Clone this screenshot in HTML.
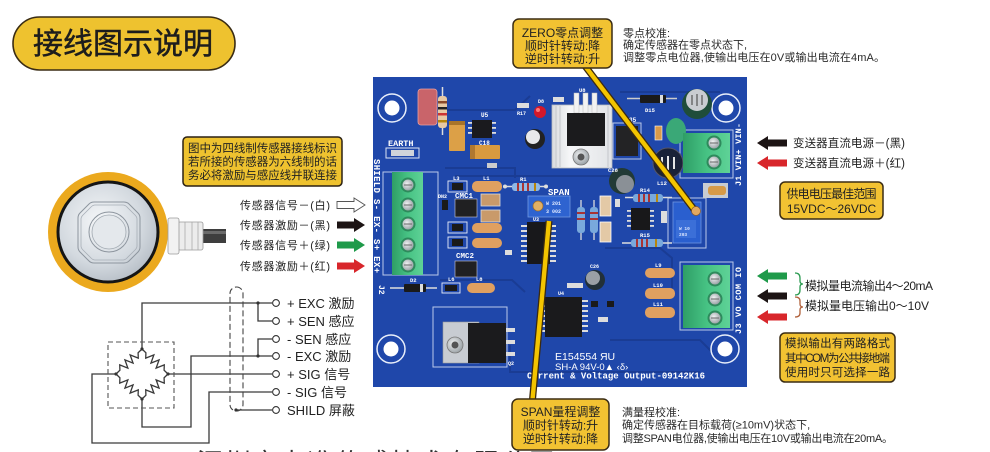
<!DOCTYPE html>
<html><head><meta charset="utf-8">
<style>
html,body{margin:0;padding:0;background:#fff;width:990px;height:452px;overflow:hidden;}
svg{display:block;overflow:hidden;}
text{font-family:"Liberation Sans","Noto Sans CJK SC",sans-serif;}
.mono{font-family:"Liberation Mono","DejaVu Sans Mono",monospace;font-weight:bold;}
</style></head><body>
<svg width="990" height="452" viewBox="0 0 990 452" xmlns="http://www.w3.org/2000/svg">
<defs>
<radialGradient id="silver" cx="0.42" cy="0.4" r="0.7">
<stop offset="0" stop-color="#f5f7f9"/><stop offset="0.6" stop-color="#d3d9df"/><stop offset="1" stop-color="#aeb6bf"/>
</radialGradient>
<radialGradient id="screw" cx="0.4" cy="0.4" r="0.7">
<stop offset="0" stop-color="#f2f3f4"/><stop offset="1" stop-color="#8f979c"/>
</radialGradient>
<linearGradient id="hs" x1="0" x2="1" y1="0" y2="0">
<stop offset="0" stop-color="#d9dcdf"/><stop offset="0.3" stop-color="#f6f7f8"/><stop offset="1" stop-color="#e2e4e7"/>
</linearGradient>
<linearGradient id="grn" x1="0" x2="1">
<stop offset="0" stop-color="#2f9e66"/><stop offset="0.5" stop-color="#46c283"/><stop offset="1" stop-color="#5fd297"/>
</linearGradient>
<clipPath id="frame"><rect x="0" y="0" width="990" height="452"/></clipPath>
</defs>
<g clip-path="url(#frame)">

<!-- Title pill -->
<rect x="13" y="17" width="222" height="53" rx="26.5" fill="#EEC22F" stroke="#3a2c14" stroke-width="1.6"/>
<text x="33" y="54" font-size="30" fill="#1d1d1d" stroke="#1d1d1d" stroke-width="0.5" textLength="180" lengthAdjust="spacingAndGlyphs">接线图示说明</text>

<!-- Left note box -->
<rect x="183" y="137" width="159" height="49" rx="4" fill="#EEC22F" stroke="#2b2113" stroke-width="1.5"/>
<g font-size="11.5" fill="#222">
<text x="188" y="152" textLength="149">图中为四线制传感器接线标识</text>
<text x="188" y="165.5" textLength="149">若所接的传感器为六线制的话</text>
<text x="188" y="179" textLength="149">务必将激励与感应线并联连接</text>
</g>

<!-- Load cell -->
<circle cx="108" cy="232" r="60" fill="#EBA91E"/>
<circle cx="108" cy="232" r="50" fill="url(#silver)" stroke="#151515" stroke-width="3"/>
<path d="M94,202 H124 Q127,202 129,204 L138,213 Q140,215 140,218 V247 Q140,250 138,252 L129,261 Q127,263 124,263 H94 Q91,263 89,261 L80,252 Q78,250 78,247 V218 Q78,215 80,213 L89,204 Q91,202 94,202 Z" fill="none" stroke="#8d959e" stroke-width="1"/>
<path d="M95,205 H123 Q125,205 127,207 L135,215 Q137,217 137,219 V246 Q137,248 135,250 L127,258 Q125,260 123,260 H95 Q93,260 91,258 L83,250 Q81,248 81,246 V219 Q81,217 83,215 L91,207 Q93,205 95,205 Z" fill="none" stroke="#a7aeb6" stroke-width="0.8"/>
<circle cx="109" cy="232" r="20" fill="none" stroke="#8d959e" stroke-width="1"/>
<circle cx="109" cy="232" r="17" fill="#e4e8ec" stroke="#a0a8b0" stroke-width="0.8"/>
<!-- gland & cable -->
<rect x="203" y="229" width="23" height="14" fill="#3e3e3e"/>
<rect x="203" y="231" width="23" height="3" fill="#6a6a6a"/>
<rect x="178" y="222" width="25" height="28" rx="2" fill="#ececec" stroke="#9a9a9a" stroke-width="0.8"/>
<rect x="168" y="218" width="11" height="36" rx="2" fill="#f2f2f2" stroke="#9a9a9a" stroke-width="0.8"/>
<line x1="185" y1="222" x2="185" y2="250" stroke="#aaa" stroke-width="0.8"/>
<line x1="192" y1="222" x2="192" y2="250" stroke="#aaa" stroke-width="0.8"/>
<line x1="198" y1="222" x2="198" y2="250" stroke="#aaa" stroke-width="0.8"/>

<!-- Sensor wire labels -->
<g font-size="11" fill="#222">
<text x="240" y="209" textLength="90">传感器信号－(白)</text>
<text x="240" y="229" textLength="90">传感器激励－(黑)</text>
<text x="240" y="249" textLength="90">传感器信号＋(绿)</text>
<text x="240" y="270" textLength="90">传感器激励＋(红)</text>
</g>
<path d="M337,201.5 H354 V198 L365,205 L354,212 V208.5 H337 Z" fill="#fff" stroke="#555" stroke-width="0.9"/>
<path d="M337,221.5 H354 V218 L365,225 L354,232 V228.5 H337 Z" fill="#1c1414"/>
<path d="M337,241.5 H354 V238 L365,245 L354,252 V248.5 H337 Z" fill="#1f9a4a"/>
<path d="M337,262.5 H354 V259 L365,266 L354,273 V269.5 H337 Z" fill="#d8262b"/>

<!-- Circuit diagram -->
<g fill="none" stroke="#3a3a3a" stroke-width="1.3">
<path d="M142,349 V303 H272"/>
<path d="M258,303 V321 H272"/>
<path d="M272,339 H258 V356"/>
<path d="M272,356 H191 V427 H142 V399"/>
<path d="M168,374 H272"/>
<path d="M272,392 H209 V443 H92 V374 H116"/>
<path d="M236,410 H272"/>
<polyline points="142,349 145.9,352.75 145.73,358.13 153.87,354.87 150.93,363.13 159.07,359.87 156.13,368.13 164.27,364.87 164.1,370.25 168,374"/>
<polyline points="142,349 138.1,352.75 138.27,358.13 130.13,354.87 133.07,363.13 124.93,359.87 127.87,368.13 119.73,364.87 119.9,370.25 116,374"/>
<polyline points="142,399 145.9,395.25 145.73,389.87 153.87,393.13 150.93,384.87 159.07,388.13 156.13,379.87 164.27,383.13 164.1,377.75 168,374"/>
<polyline points="142,399 138.1,395.25 138.27,389.87 130.13,393.13 133.07,384.87 124.93,388.13 127.87,379.87 119.73,383.13 119.9,377.75 116,374"/>
</g>
<rect x="108" y="342" width="66" height="66" fill="none" stroke="#555" stroke-width="1.1" stroke-dasharray="5 3"/>
<rect x="230" y="287" width="13" height="124" rx="6.5" fill="none" stroke="#444" stroke-width="1.1" stroke-dasharray="6 3"/>
<g fill="#333">
<circle cx="258" cy="303" r="1.6"/><circle cx="258" cy="356" r="1.6"/><circle cx="236" cy="410" r="1.6"/>
<circle cx="142" cy="349" r="1.6"/><circle cx="142" cy="399" r="1.6"/><circle cx="116" cy="374" r="1.6"/><circle cx="168" cy="374" r="1.6"/>
</g>
<g fill="#fff" stroke="#333" stroke-width="1.1">
<circle cx="276" cy="303" r="3.4"/><circle cx="276" cy="321" r="3.4"/><circle cx="276" cy="339" r="3.4"/>
<circle cx="276" cy="356" r="3.4"/><circle cx="276" cy="374" r="3.4"/><circle cx="276" cy="392" r="3.4"/><circle cx="276" cy="410" r="3.4"/>
</g>
<g font-size="13" fill="#222">
<text x="287" y="308">+ EXC 激励</text>
<text x="287" y="326">+ SEN 感应</text>
<text x="287" y="344">- SEN 感应</text>
<text x="287" y="361">- EXC 激励</text>
<text x="287" y="379">+ SIG  信号</text>
<text x="287" y="397">- SIG  信号</text>
<text x="287" y="415">SHILD 屏蔽</text>
</g>

<!-- Bottom cut-off company text -->
<text x="197" y="472" font-size="26" fill="#333" textLength="358">深圳市力准传感技术有限公司</text>

<!-- ================= PCB ================= -->
<rect x="373" y="77" width="374" height="310" fill="#1f47aa"/>
<g fill="none" stroke="#1a3c94" stroke-width="2">
<path d="M430,110 H515 L530,96"/>
<path d="M445,168 H515 V178"/>
<path d="M605,248 H660 L672,258 V292"/>
<path d="M525,292 L512,280 H440"/>
<path d="M610,340 H700 L712,352"/>
<path d="M455,176 H610"/>
<path d="M510,345 V372 H700"/>
<path d="M620,92 H720"/>
</g>
<g fill="none" stroke="#d7e1f6" stroke-width="1" opacity="0.85">
<rect x="383" y="172" width="55" height="103"/>
<rect x="680" y="130" width="53" height="48"/>
<rect x="680" y="262" width="53" height="68"/>
<rect x="433" y="307" width="74" height="60"/>
<rect x="668" y="198" width="38" height="50"/>
<rect x="613" y="123" width="28" height="36"/>
</g>
<!-- mounting holes -->
<g>
<circle cx="392" cy="108" r="14" fill="none" stroke="#e8eefa" stroke-width="1.5"/><circle cx="392" cy="108" r="7.5" fill="#fff"/>
<circle cx="726" cy="108" r="14" fill="none" stroke="#e8eefa" stroke-width="1.5"/><circle cx="726" cy="108" r="7.5" fill="#fff"/>
<circle cx="391" cy="349" r="14" fill="none" stroke="#e8eefa" stroke-width="1.5"/><circle cx="391" cy="349" r="7.5" fill="#fff"/>
<circle cx="725" cy="349" r="14" fill="none" stroke="#e8eefa" stroke-width="1.5"/><circle cx="725" cy="349" r="7.5" fill="#fff"/>
</g>

<!-- top-left components -->
<rect x="418" y="89" width="19" height="36" rx="3" fill="#c9646a" stroke="#e9a0a0" stroke-width="0.8"/>
<line x1="442.5" y1="87" x2="442.5" y2="135" stroke="#ddd" stroke-width="1.5"/>
<rect x="438" y="96" width="9" height="32" rx="3" fill="#e7c9a4"/>
<rect x="438" y="101" width="9" height="2.5" fill="#8a4a2a"/><rect x="438" y="107" width="9" height="2.5" fill="#222"/>
<rect x="438" y="113" width="9" height="2.5" fill="#c33"/><rect x="438" y="120" width="9" height="2.5" fill="#b8860b"/>
<rect x="449" y="121" width="16" height="30" rx="1" fill="#dca047"/><rect x="449" y="121" width="16" height="4" fill="#a8742a"/>
<rect x="472" y="120" width="20" height="18" fill="#1a1a1e"/>
<g fill="#ddd"><rect x="468" y="122" width="4" height="1.8"/><rect x="468" y="127" width="4" height="1.8"/><rect x="468" y="132" width="4" height="1.8"/>
<rect x="492" y="122" width="4" height="1.8"/><rect x="492" y="127" width="4" height="1.8"/><rect x="492" y="132" width="4" height="1.8"/></g>
<rect x="470" y="145" width="30" height="14" rx="1" fill="#d99a3f"/><rect x="470" y="145" width="5" height="14" fill="#b07830"/>
<rect x="487" y="163" width="10" height="5" fill="#ccc"/>
<text x="388" y="146" class="mono" font-size="8.5" fill="#fff">EARTH</text>
<rect x="386" y="148" width="33" height="10" fill="none" stroke="#dde4f4" stroke-width="1"/>
<rect x="391" y="150" width="23" height="6" fill="#d0d4da"/>
<text x="481" y="117" class="mono" font-size="6" fill="#fff">U5</text>
<text x="479" y="145" class="mono" font-size="6" fill="#fff">C18</text>

<!-- LED, small parts -->
<circle cx="540" cy="112" r="6" fill="#d3182a"/><circle cx="538" cy="110" r="2" fill="#f77"/>
<rect x="517" y="103" width="12" height="5" fill="#ddd"/>
<text x="517" y="115" class="mono" font-size="5" fill="#fff">R17</text>
<text x="538" y="103" class="mono" font-size="5" fill="#fff">D8</text>
<rect x="553" y="97" width="11" height="5" fill="#ddd"/>
<circle cx="535" cy="139" r="10" fill="#222"/><circle cx="533" cy="137" r="7" fill="#e8e8ea"/>

<!-- U8 heatsink regulator -->
<rect x="552" y="105" width="60" height="63" fill="url(#hs)" stroke="#b9bcc0" stroke-width="0.8"/>
<g stroke="#c4c7cb" stroke-width="1"><line x1="556" y1="106" x2="556" y2="167"/><line x1="560" y1="106" x2="560" y2="167"/><line x1="608" y1="106" x2="608" y2="167"/></g>
<rect x="574" y="93" width="5" height="20" fill="#f2f2f2" stroke="#bbb" stroke-width="0.5"/>
<rect x="583" y="93" width="5" height="20" fill="#f2f2f2" stroke="#bbb" stroke-width="0.5"/>
<rect x="592" y="93" width="5" height="20" fill="#f2f2f2" stroke="#bbb" stroke-width="0.5"/>
<rect x="567" y="113" width="38" height="33" fill="#1b1b1d"/>
<circle cx="581" cy="157" r="8" fill="url(#screw)" stroke="#777" stroke-width="0.8"/><circle cx="581" cy="157" r="3.5" fill="#555"/>
<text x="579" y="92" class="mono" font-size="5.5" fill="#fff">U8</text>

<!-- D15 and right-top parts -->
<line x1="627" y1="98.5" x2="677" y2="98.5" stroke="#ccc" stroke-width="1.5"/>
<rect x="640" y="95" width="26" height="8" rx="1" fill="#1a1a1a"/><rect x="660" y="95" width="3" height="8" fill="#ddd"/>
<text x="645" y="112" class="mono" font-size="5.5" fill="#fff">D15</text>
<rect x="616" y="126" width="22" height="30" fill="#232325"/>
<text x="629" y="122" class="mono" font-size="6" fill="#fff">35</text>
<circle cx="697" cy="104" r="15" fill="#1f4d3a"/><circle cx="697" cy="100" r="11" fill="#c9ccd1"/>
<g stroke="#555" stroke-width="1.2"><line x1="692" y1="95" x2="692" y2="105"/><line x1="697" y1="94" x2="697" y2="106"/><line x1="702" y1="95" x2="702" y2="105"/></g>
<ellipse cx="676" cy="131" rx="10" ry="13" fill="#3aa877"/>
<rect x="655" y="126" width="7" height="14" fill="#d99a4a" stroke="#fff" stroke-width="0.6"/>
<circle cx="668" cy="163" r="15" fill="#1a2238" stroke="#556" stroke-width="1"/>
<g stroke="#e6e6e6" stroke-width="2"><line x1="662" y1="157" x2="662" y2="169"/><line x1="668" y1="156" x2="668" y2="170"/><line x1="674" y1="157" x2="674" y2="169"/></g>
<text x="657" y="185" class="mono" font-size="5.5" fill="#fff">L12</text>
<circle cx="622" cy="181" r="13" fill="#223a36"/><circle cx="625" cy="184" r="9" fill="#8a9096"/>
<text x="608" y="172" class="mono" font-size="5.5" fill="#fff">C28</text>
<rect x="703" y="183" width="25" height="15" fill="#c8ccd2"/><rect x="708" y="186" width="18" height="9" rx="3" fill="#d69a48"/>

<!-- right middle -->
<line x1="625" y1="197.5" x2="672" y2="197.5" stroke="#ddd" stroke-width="1.5"/>
<rect x="633" y="194" width="30" height="8" rx="3" fill="#79a9dc"/>
<g fill="#a33"><rect x="638" y="194" width="2" height="8"/><rect x="643" y="194" width="2" height="8"/><rect x="648" y="194" width="2" height="8"/><rect x="656" y="194" width="2" height="8" fill="#b8860b"/></g>
<line x1="622" y1="243" x2="672" y2="243" stroke="#ddd" stroke-width="1.5"/>
<rect x="631" y="239" width="32" height="8" rx="3" fill="#79a9dc"/>
<g fill="#a33"><rect x="636" y="239" width="2" height="8"/><rect x="641" y="239" width="2" height="8"/><rect x="646" y="239" width="2" height="8"/><rect x="655" y="239" width="2" height="8" fill="#b8860b"/></g>
<text x="640" y="192" class="mono" font-size="5.5" fill="#fff">R14</text>
<text x="640" y="237" class="mono" font-size="5.5" fill="#fff">R15</text>
<rect x="631" y="208" width="19" height="22" fill="#18181a"/>
<g fill="#ddd"><rect x="627" y="210" width="4" height="1.8"/><rect x="627" y="215" width="4" height="1.8"/><rect x="627" y="220" width="4" height="1.8"/><rect x="627" y="225" width="4" height="1.8"/>
<rect x="650" y="210" width="4" height="1.8"/><rect x="650" y="215" width="4" height="1.8"/><rect x="650" y="220" width="4" height="1.8"/><rect x="650" y="225" width="4" height="1.8"/></g>
<rect x="661" y="211" width="6" height="12" fill="#ddd"/>
<line x1="581" y1="200" x2="581" y2="240" stroke="#ddd" stroke-width="1.3"/>
<rect x="577" y="207" width="8" height="26" rx="3" fill="#79a9dc"/>
<line x1="594" y1="200" x2="594" y2="240" stroke="#ddd" stroke-width="1.3"/>
<rect x="590" y="207" width="8" height="26" rx="3" fill="#79a9dc"/>
<g fill="#a33"><rect x="577" y="212" width="8" height="2"/><rect x="577" y="218" width="8" height="2"/><rect x="590" y="212" width="8" height="2"/><rect x="590" y="218" width="8" height="2"/></g>
<rect x="600" y="196" width="11" height="20" fill="#e3c9a6" stroke="#fff" stroke-width="0.8"/>
<rect x="600" y="222" width="11" height="20" fill="#e3c9a6" stroke="#fff" stroke-width="0.8"/>
<rect x="615" y="199" width="5" height="8" fill="#ddd"/>

<!-- ZERO pot -->
<rect x="673" y="202" width="28" height="41" fill="#2a5fcf" stroke="#6f95e0" stroke-width="0.8"/>
<rect x="676" y="220" width="20" height="18" fill="#3b6fd8"/>
<text x="679" y="230" class="mono" font-size="4.5" fill="#dfe8ff">W 10</text>
<text x="679" y="236" class="mono" font-size="4.5" fill="#dfe8ff">203</text>

<!-- left area -->
<rect x="448" y="181" width="19" height="11" fill="none" stroke="#e8eefa" stroke-width="0.9"/><rect x="452" y="183" width="11" height="7" fill="#1a1a1a"/>
<rect x="472" y="181" width="30" height="11" rx="5" fill="#e0a060"/>
<text x="453" y="180" class="mono" font-size="5.5" fill="#fff">L3</text>
<text x="483" y="180" class="mono" font-size="5.5" fill="#fff">L1</text>
<text x="455" y="198" class="mono" font-size="7.5" fill="#fff">CMC1</text>
<rect x="455" y="199" width="22" height="18" fill="#202022" stroke="#ccd" stroke-width="0.6"/>
<rect x="481" y="194" width="19" height="12" fill="#c99a6a" stroke="#ddd" stroke-width="0.8"/>
<rect x="481" y="210" width="19" height="12" fill="#c99a6a" stroke="#ddd" stroke-width="0.8"/>
<rect x="442" y="200" width="6" height="10" fill="#1a1a1a"/>
<text x="438" y="198" class="mono" font-size="5" fill="#fff">DN2</text>
<rect x="448" y="222" width="19" height="11" fill="none" stroke="#e8eefa" stroke-width="0.9"/><rect x="452" y="224" width="11" height="7" fill="#1a1a1a"/>
<rect x="448" y="237" width="19" height="11" fill="none" stroke="#e8eefa" stroke-width="0.9"/><rect x="452" y="239" width="11" height="7" fill="#1a1a1a"/>
<rect x="472" y="223" width="30" height="10" rx="5" fill="#e0a060"/>
<rect x="472" y="238" width="30" height="10" rx="5" fill="#e0a060"/>
<text x="456" y="258" class="mono" font-size="7.5" fill="#fff">CMC2</text>
<rect x="455" y="261" width="22" height="16" fill="#202022" stroke="#ccd" stroke-width="0.6"/>
<rect x="442" y="283" width="18" height="10" fill="none" stroke="#e8eefa" stroke-width="0.9"/><rect x="445" y="285" width="12" height="6" fill="#1a1a1a"/>
<rect x="467" y="283" width="28" height="10" rx="5" fill="#e0a060"/>
<text x="448" y="281" class="mono" font-size="5.5" fill="#fff">L6</text>
<text x="476" y="281" class="mono" font-size="5.5" fill="#fff">L8</text>
<line x1="390" y1="288" x2="437" y2="288" stroke="#ddd" stroke-width="1.5"/>
<rect x="404" y="284" width="22" height="8" rx="1" fill="#1a1a1a"/><rect x="420" y="284" width="3" height="8" fill="#ddd"/>
<text x="410" y="282" class="mono" font-size="5.5" fill="#fff">D2</text>
<rect x="505" y="250" width="7" height="5" fill="#ddd"/>

<!-- J2 terminal -->
<rect x="392" y="172" width="31" height="103" fill="url(#grn)"/>
<g fill="#2e8a5c"><circle cx="408" cy="185" r="7.5"/><circle cx="408" cy="205" r="7.5"/><circle cx="408" cy="224" r="7.5"/><circle cx="408" cy="245" r="7.5"/><circle cx="408" cy="265" r="7.5"/></g>
<g fill="url(#screw)"><circle cx="408" cy="185" r="5.5"/><circle cx="408" cy="205" r="5.5"/><circle cx="408" cy="224" r="5.5"/><circle cx="408" cy="245" r="5.5"/><circle cx="408" cy="265" r="5.5"/></g>
<g stroke="#666" stroke-width="1"><line x1="404" y1="185" x2="412" y2="185"/><line x1="404" y1="205" x2="412" y2="205"/><line x1="404" y1="224" x2="412" y2="224"/><line x1="404" y1="245" x2="412" y2="245"/><line x1="404" y1="265" x2="412" y2="265"/></g>
<text transform="translate(374,159) rotate(90)" class="mono" font-size="9" fill="#fff" textLength="114">SHIELD S- EX- S+ EX+</text>
<text transform="translate(379,285) rotate(90)" class="mono" font-size="8" fill="#fff">J2</text>

<!-- J1 terminal -->
<rect x="683" y="133" width="47" height="40" fill="url(#grn)"/>
<g fill="#2e8a5c"><circle cx="714" cy="143" r="7.5"/><circle cx="714" cy="162" r="7.5"/></g>
<g fill="url(#screw)"><circle cx="714" cy="143" r="5.5"/><circle cx="714" cy="162" r="5.5"/></g>
<g stroke="#666" stroke-width="1"><line x1="710" y1="143" x2="718" y2="143"/><line x1="710" y1="162" x2="718" y2="162"/></g>
<text transform="translate(741,186) rotate(-90)" class="mono" font-size="8.5" fill="#fff" textLength="63">J1 VIN+ VIN-</text>

<!-- J3 terminal -->
<rect x="683" y="265" width="47" height="63" fill="url(#grn)"/>
<g fill="#2e8a5c"><circle cx="715" cy="279" r="7.5"/><circle cx="715" cy="299" r="7.5"/><circle cx="715" cy="318" r="7.5"/></g>
<g fill="url(#screw)"><circle cx="715" cy="279" r="5.5"/><circle cx="715" cy="299" r="5.5"/><circle cx="715" cy="318" r="5.5"/></g>
<g stroke="#666" stroke-width="1"><line x1="711" y1="279" x2="719" y2="279"/><line x1="711" y1="299" x2="719" y2="299"/><line x1="711" y1="318" x2="719" y2="318"/></g>
<text transform="translate(741,334) rotate(-90)" class="mono" font-size="8.5" fill="#fff" textLength="67">J3 VO COM IO</text>

<!-- L9 L10 L11 -->
<rect x="645" y="268" width="30" height="10" rx="5" fill="#e0a060"/>
<rect x="645" y="288" width="30" height="11" rx="5" fill="#e0a060"/>
<rect x="645" y="307" width="30" height="11" rx="5" fill="#e0a060"/>
<text x="655" y="267" class="mono" font-size="5.5" fill="#fff">L9</text>
<text x="653" y="287" class="mono" font-size="5.5" fill="#fff">L10</text>
<text x="653" y="306" class="mono" font-size="5.5" fill="#fff">L11</text>

<!-- U3 IC + SPAN pot + R1 -->
<rect x="527" y="222" width="23" height="42" fill="#18181b"/>
<g fill="#ddd">
<rect x="521" y="225" width="6" height="2"/><rect x="521" y="230" width="6" height="2"/><rect x="521" y="235" width="6" height="2"/><rect x="521" y="240" width="6" height="2"/><rect x="521" y="245" width="6" height="2"/><rect x="521" y="250" width="6" height="2"/><rect x="521" y="255" width="6" height="2"/><rect x="521" y="260" width="6" height="2"/>
<rect x="550" y="225" width="6" height="2"/><rect x="550" y="230" width="6" height="2"/><rect x="550" y="235" width="6" height="2"/><rect x="550" y="240" width="6" height="2"/><rect x="550" y="245" width="6" height="2"/><rect x="550" y="250" width="6" height="2"/><rect x="550" y="255" width="6" height="2"/><rect x="550" y="260" width="6" height="2"/>
</g>
<text x="533" y="221" class="mono" font-size="5" fill="#fff">U3</text>
<line x1="503" y1="186.5" x2="548" y2="186.5" stroke="#ddd" stroke-width="1.5"/>
<circle cx="505" cy="186.5" r="2" fill="#ddd"/><circle cx="546" cy="186.5" r="2" fill="#ddd"/>
<rect x="512" y="183" width="28" height="8" rx="3" fill="#8fb9e6"/>
<g fill="#a33"><rect x="517" y="183" width="2" height="8"/><rect x="522" y="183" width="2" height="8"/><rect x="527" y="183" width="2" height="8"/><rect x="534" y="183" width="2" height="8" fill="#b8860b"/></g>
<text x="520" y="181" class="mono" font-size="5.5" fill="#fff">R1</text>
<text x="548" y="195" class="mono" font-size="9" fill="#fff">SPAN</text>
<rect x="528" y="196" width="42" height="21" fill="#2e63d0" stroke="#7098e2" stroke-width="0.8"/>
<circle cx="538" cy="206" r="5" fill="#e2b064" stroke="#9a6a2a" stroke-width="0.7"/>
<text x="546" y="205" class="mono" font-size="5" fill="#dfe8ff">W 201</text>
<text x="546" y="213" class="mono" font-size="5" fill="#dfe8ff">3 002</text>

<!-- U4 & bottom parts -->
<rect x="545" y="297" width="37" height="40" fill="#1a1a1c"/>
<g fill="#ddd">
<rect x="539" y="300" width="6" height="2"/><rect x="539" y="305" width="6" height="2"/><rect x="539" y="310" width="6" height="2"/><rect x="539" y="315" width="6" height="2"/><rect x="539" y="320" width="6" height="2"/><rect x="539" y="325" width="6" height="2"/><rect x="539" y="330" width="6" height="2"/>
<rect x="582" y="300" width="6" height="2"/><rect x="582" y="305" width="6" height="2"/><rect x="582" y="310" width="6" height="2"/><rect x="582" y="315" width="6" height="2"/><rect x="582" y="320" width="6" height="2"/><rect x="582" y="325" width="6" height="2"/><rect x="582" y="330" width="6" height="2"/>
</g>
<text x="558" y="295" class="mono" font-size="5" fill="#fff">U4</text>
<circle cx="595" cy="280" r="10" fill="#223038"/><circle cx="593" cy="278" r="7" fill="#9aa0a6"/>
<text x="590" y="268" class="mono" font-size="5" fill="#fff">C26</text>
<rect x="567" y="283" width="16" height="5" fill="#ddd"/>
<rect x="591" y="301" width="7" height="6" fill="#1a1a1a"/><rect x="607" y="301" width="7" height="6" fill="#1a1a1a"/>
<rect x="598" y="317" width="10" height="5" fill="#ddd"/>

<!-- Q2 regulator -->
<rect x="443" y="322" width="36" height="41" fill="#c8ccd2" stroke="#999" stroke-width="0.6"/>
<circle cx="455" cy="345" r="8" fill="url(#screw)" stroke="#777" stroke-width="0.8"/><circle cx="455" cy="345" r="3.5" fill="#555"/>
<rect x="468" y="323" width="38" height="40" fill="#1b1b1d"/>
<rect x="506" y="328" width="9" height="4" fill="#ddd"/><rect x="506" y="340" width="9" height="4" fill="#ddd"/><rect x="506" y="352" width="9" height="4" fill="#ddd"/>
<text x="508" y="365" class="mono" font-size="5" fill="#fff">Q2</text>

<!-- board bottom text -->
<text x="555" y="360" font-size="10.5" fill="#fff">E154554 ЯU</text>
<text x="555" y="370" font-size="9.5" fill="#fff">SH-A 94V-0▲ ‹δ›</text>
<text x="527" y="378.5" class="mono" font-size="9" fill="#fff" textLength="178">Current &amp; Voltage Output-09142K16</text>

<!-- ZERO callout pointer & box -->
<line x1="582" y1="62" x2="696" y2="212" stroke="#3b2a10" stroke-width="7"/>
<line x1="582" y1="62" x2="696" y2="212" stroke="#F3C400" stroke-width="4.4"/>
<circle cx="696" cy="211" r="4.5" fill="#e2a860" stroke="#8a5a2a" stroke-width="0.7"/>
<rect x="513" y="19" width="99" height="49" rx="6" fill="#F2C232" stroke="#3a2c14" stroke-width="1.5"/>
<g font-size="12" fill="#222" text-anchor="middle">
<text x="562.5" y="37">ZERO零点调整</text>
<text x="562.5" y="50">顺时针转动:降</text>
<text x="562.5" y="63">逆时针转动:升</text>
</g>
<g font-size="11" fill="#2a2a2a">
<text x="623" y="37">零点校准:</text>
<text x="623" y="48.5">确定传感器在零点状态下,</text>
<text x="623" y="61" textLength="262">调整零点电位器,使输出电压在0V或输出电流在4mA。</text>
</g>

<!-- SPAN callout pointer & box -->
<line x1="549" y1="221" x2="532" y2="405" stroke="#3b2a10" stroke-width="7"/>
<line x1="549" y1="221" x2="532" y2="405" stroke="#F3C400" stroke-width="4.4"/>
<rect x="512" y="399" width="97" height="51" rx="6" fill="#F2C232" stroke="#3a2c14" stroke-width="1.5"/>
<g font-size="12" fill="#222" text-anchor="middle">
<text x="560.5" y="416">SPAN量程调整</text>
<text x="560.5" y="429.5">顺时针转动:升</text>
<text x="560.5" y="443">逆时针转动:降</text>
</g>
<g font-size="11" fill="#2a2a2a">
<text x="622" y="416">满量程校准:</text>
<text x="622" y="428.5">确定传感器在目标载荷(≥10mV)状态下,</text>
<text x="622" y="442" textLength="271">调整SPAN电位器,使输出电压在10V或输出电流在20mA。</text>
</g>

<!-- Right side: power arrows -->
<path d="M787,139.5 H768 V136 L757,143 L768,150 V146.5 H787 Z" fill="#1c1414"/>
<path d="M787,159.5 H768 V156 L757,163 L768,170 V166.5 H787 Z" fill="#d8262b"/>
<g font-size="11.5" fill="#222">
<text x="793" y="147" textLength="112">变送器直流电源－(黑)</text>
<text x="793" y="167" textLength="112">变送器直流电源＋(红)</text>
</g>
<rect x="780" y="182" width="103" height="37" rx="5" fill="#F2C232" stroke="#3a2c14" stroke-width="1.5"/>
<g font-size="12" fill="#222" text-anchor="middle">
<text x="831.5" y="198" textLength="90">供电电压最佳范围</text>
<text x="831.5" y="213">15VDC～26VDC</text>
</g>

<!-- Output arrows -->
<path d="M787,272.5 H768 V269 L757,276 L768,283 V279.5 H787 Z" fill="#1f9a4a"/>
<path d="M787,292.5 H768 V289 L757,296 L768,303 V299.5 H787 Z" fill="#1c1414"/>
<path d="M787,313.5 H768 V310 L757,317 L768,324 V320.5 H787 Z" fill="#d8262b"/>
<path d="M795,273 Q800,273 800,278 V281 Q800,284 803,284 Q800,284 800,287 V290 Q800,295 795,295" fill="none" stroke="#2a9a50" stroke-width="1.3"/>
<path d="M795,297 Q800,297 800,301 V304 Q800,307 803,307 Q800,307 800,310 V313 Q800,317 795,317" fill="none" stroke="#b0603a" stroke-width="1.3"/>
<g font-size="12" fill="#222">
<text x="805" y="290" textLength="128">模拟量电流输出4～20mA</text>
<text x="805" y="310">模拟量电压输出0～10V</text>
</g>
<rect x="780" y="333" width="115" height="49" rx="5" fill="#F2C232" stroke="#3a2c14" stroke-width="1.5"/>
<g font-size="11.5" fill="#222" text-anchor="middle">
<text x="837.5" y="347" textLength="105">模拟输出有两路格式</text>
<text x="837.5" y="362" textLength="105">其中COM为公共接地端</text>
<text x="837.5" y="376" textLength="105">使用时只可选择一路</text>
</g>
</g>
</svg>
</body></html>
